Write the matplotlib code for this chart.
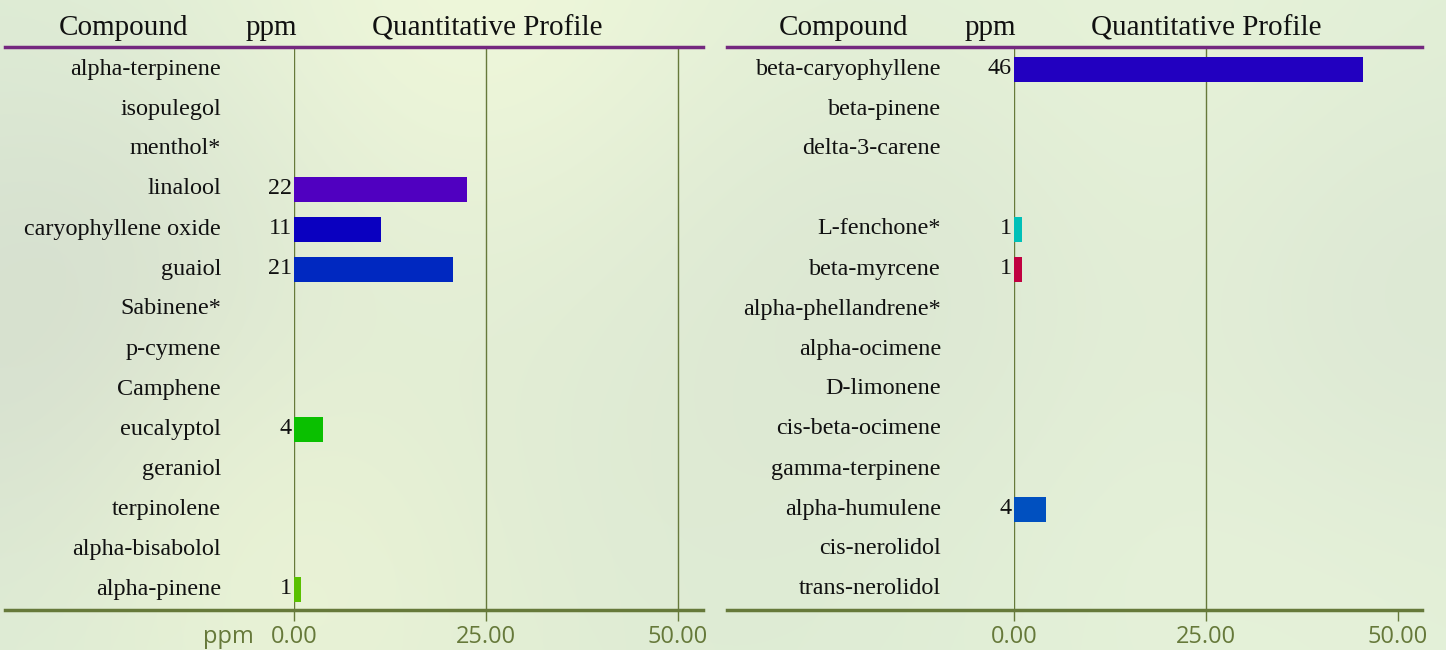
import matplotlib

matplotlib.use("Agg")
import matplotlib.pyplot as plt
import matplotlib.transforms as mtransforms
import numpy as np

# ---- data -------------------------------------------------------------
left_compounds = [
    "alpha-terpinene", "isopulegol", "menthol*", "linalool",
    "caryophyllene oxide", "guaiol", "Sabinene*", "p-cymene",
    "Camphene", "eucalyptol", "geraniol", "terpinolene",
    "alpha-bisabolol", "alpha-pinene",
]
left_ppm = [0, 0, 0, 22.5, 11.3, 20.7, 0, 0, 0, 3.8, 0, 0, 0, 0.9]
left_value_text = ["", "", "", "22", "11", "21", "", "", "", "4", "", "", "", "1"]
left_colors = [
    None, None, None, "#5000c0", "#0a00c0", "#0028c0", None, None,
    None, "#0ac000", None, None, None, "#5ac000",
]

right_compounds = [
    "beta-caryophyllene", "beta-pinene", "delta-3-carene", "",
    "L-fenchone*", "beta-myrcene", "alpha-phellandrene*", "alpha-ocimene",
    "D-limonene", "cis-beta-ocimene", "gamma-terpinene", "alpha-humulene",
    "cis-nerolidol", "trans-nerolidol",
]
right_ppm = [45.4, 0, 0, 0, 1.0, 1.1, 0, 0, 0, 0, 0, 4.2, 0, 0]
right_value_text = ["46", "", "", "", "1", "1", "", "", "", "", "", "4", "", ""]
right_colors = [
    "#2200c0", None, None, None, "#00c0b8", "#c00040", None, None,
    None, None, None, "#0050c0", None, None,
]

tick_values = [0, 25, 50]
tick_labels = ["0.00", "25.00", "50.00"]

OLIVE = "#66793a"
PURPLE = "#74287f"
SERIF = "Liberation Serif"
SANS = "Open Sans"

W, H = 1446, 650
fig = plt.figure(figsize=(W / 100, H / 100), dpi=100)

# ---- soft blurred backdrop -------------------------------------------
bg = fig.add_axes([0, 0, 1, 1], zorder=-10)
yy, xx = np.mgrid[0:H:2, 0:W:2]
base = np.array([0.875, 0.935, 0.84])
img = np.ones(xx.shape + (3,)) * base
blobs = [
    (480, 40, 220, (0.95, 0.98, 0.86), 0.9),
    (1150, 120, 260, (0.93, 0.97, 0.86), 0.6),
    (60, 330, 200, (0.82, 0.85, 0.80), 0.7),
    (330, 560, 180, (0.94, 0.97, 0.84), 0.7),
    (700, 420, 250, (0.86, 0.90, 0.82), 0.5),
    (1300, 560, 230, (0.92, 0.96, 0.86), 0.6),
    (900, 280, 160, (0.85, 0.89, 0.82), 0.5),
    (1420, 300, 180, (0.84, 0.88, 0.82), 0.5),
]
for cx, cy, r, col, a in blobs:
    w = a * np.exp(-((xx - cx) ** 2 + (yy - cy) ** 2) / (2 * r ** 2))
    img = img * (1 - w[..., None]) + np.array(col) * w[..., None]
bg.imshow(img, extent=[0, W, H, 0], aspect="auto", interpolation="bilinear")
bg.set_xlim(0, W)
bg.set_ylim(H, 0)
bg.axis("off")


def px_offset(dx, dy=0):
    return mtransforms.ScaledTranslation(dx / 100, dy / 100, fig.dpi_scale_trans)


def draw_panel(zero_px, right_px, left_px, compounds, ppm, value_text, colors,
               show_ppm, gridlines):
    top_px, bottom_px, row0, step = 47, 610, 68, 40
    scale = 7.68  # px per ppm
    ax = fig.add_axes([
        zero_px / W, (H - bottom_px) / H,
        (right_px - zero_px) / W, (bottom_px - top_px) / H,
    ])
    ax.patch.set_alpha(0)
    for s in ax.spines.values():
        s.set_visible(False)
    ax.set_xlim(0, (right_px - zero_px) / scale)
    ax.set_ylim((bottom_px - row0) / step, (top_px - row0) / step)
    ax.set_yticks([])
    ax.set_xticks(tick_values)
    ax.set_xticklabels(tick_labels, fontfamily=SANS, fontsize=17, color=OLIVE)
    ax.tick_params(axis="x", length=8, width=1, color=OLIVE, pad=3)

    for x in gridlines:
        ax.axvline(x, color=OLIVE, lw=1, zorder=1)

    y = np.arange(len(compounds))
    for i, (v, c) in enumerate(zip(ppm, colors)):
        if v > 0:
            ax.barh(y[i] + 0.03, v, height=0.62, color=c, zorder=3)

    lab_tr = ax.get_yaxis_transform() + px_offset(-(zero_px - left_px), -1)
    val_tr = ax.get_yaxis_transform() + px_offset(-2, -1)
    for i, name in enumerate(compounds):
        ax.text(0, y[i], name, transform=lab_tr, ha="right", va="center",
                fontfamily=SERIF, fontsize=17.4, color="#111111", clip_on=False)
        if value_text[i]:
            ax.text(0, y[i], value_text[i], transform=val_tr, ha="right",
                    va="center", fontfamily=SERIF, fontsize=17.4,
                    color="#111111", clip_on=False)

    if show_ppm:
        ax.text(0, 0, "ppm", transform=ax.get_xaxis_transform() + px_offset(-66, -27),
                ha="center", va="center", fontfamily=SANS, fontsize=17,
                color=OLIVE, clip_on=False)


draw_panel(294, 703, 221, left_compounds, left_ppm, left_value_text,
           left_colors, True, [0, 25, 50])
draw_panel(1014, 1422, 941, right_compounds, right_ppm, right_value_text,
           right_colors, False, [0, 25])

# header texts and rules
for x0, x1, centers in [
    (5, 703, (123, 271, 487)),
    (727, 1422, (843, 990, 1206)),
]:
    for cx, txt in zip(centers, ["Compound", "ppm", "Quantitative Profile"]):
        fig.text(cx / W, 1 - 28 / H, txt, ha="center", va="center",
                 fontfamily=SERIF, fontsize=21, color="#111111")
    fig.add_artist(plt.Line2D([x0 / W, x1 / W], [1 - 47 / H] * 2,
                              color=PURPLE, lw=2.5))
    fig.add_artist(plt.Line2D([x0 / W, x1 / W], [1 - 610 / H] * 2,
                              color=OLIVE, lw=2.5))

fig.savefig("out.png", dpi=100)
